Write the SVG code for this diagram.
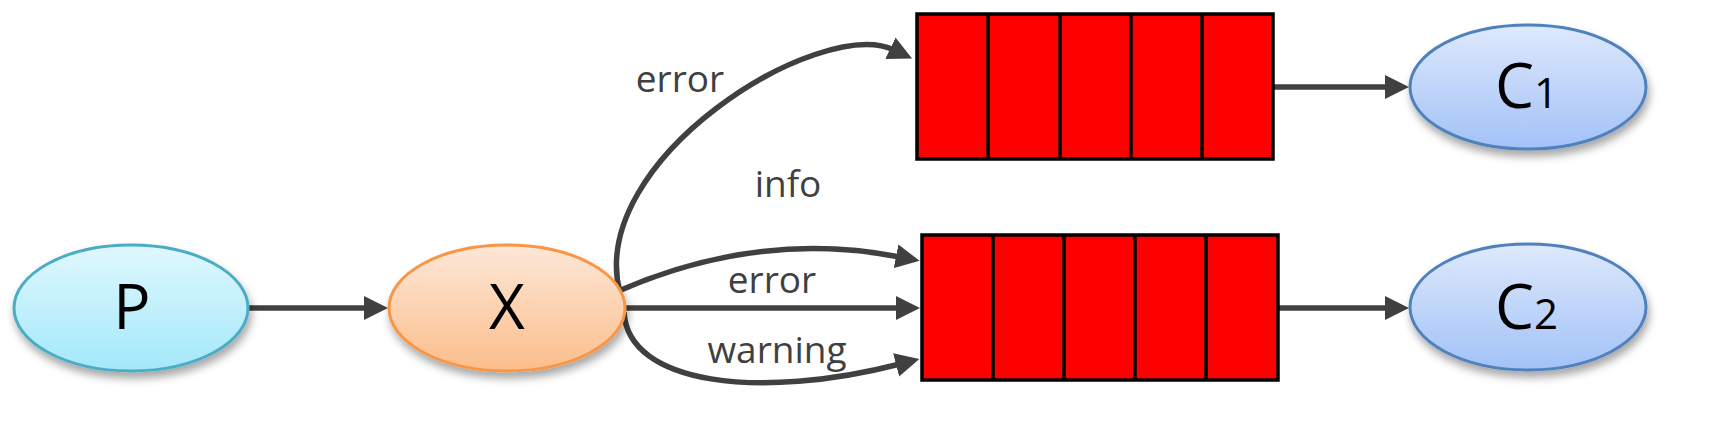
<svg xmlns="http://www.w3.org/2000/svg" width="1736" height="434" viewBox="0 0 1736 434">
  <style>
    .lbl { font-family: "Open Sans", "Noto Sans", "Liberation Sans", sans-serif; font-size: 37px; fill: #404040; text-anchor: middle; }
    .node-text { font-family: "Open Sans", "Noto Sans", "Liberation Sans", sans-serif; font-size: 62px; fill: #000000; }
    .edge { fill: none; stroke: #404040; stroke-width: 5.5; marker-end: url(#arrow); }
    .queue-box { fill: #FF0000; stroke: #000000; stroke-width: 3.5; }
    .cell { stroke: #000000; stroke-width: 3.5; }
  </style>
  <defs>
    <marker id="arrow" markerUnits="userSpaceOnUse" markerWidth="24" markerHeight="24" refX="4" refY="12" orient="auto" viewBox="0 0 24 24">
      <path d="M0,0 L24,12 L0,24 z" fill="#404040"/>
    </marker>
    <linearGradient id="gP" x1="0" y1="0" x2="0" y2="1">
      <stop offset="0" stop-color="#E0F8FE"/>
      <stop offset="1" stop-color="#A3E8FA"/>
    </linearGradient>
    <linearGradient id="gX" x1="0" y1="0" x2="0" y2="1">
      <stop offset="0" stop-color="#FDE7D7"/>
      <stop offset="1" stop-color="#FBBE8B"/>
    </linearGradient>
    <linearGradient id="gC" x1="0" y1="0" x2="0" y2="1">
      <stop offset="0" stop-color="#DEE9FC"/>
      <stop offset="1" stop-color="#A2C2F7"/>
    </linearGradient>
    <filter id="shadow" x="-20%" y="-20%" width="150%" height="160%">
      <feDropShadow dx="2" dy="6" stdDeviation="4" flood-color="#000000" flood-opacity="0.35"/>
    </filter>
  </defs>

  <g id="connectors">
    <path id="e-p-x" class="edge" d="M249,308 L368,308"/>
    <path id="e-x-q1-error" class="edge" d="M620,293 C585,160 820,15 894,50"/>
    <path id="e-x-q2-info" class="edge" d="M621,290 Q760,230 900,257"/>
    <path id="e-x-q2-error" class="edge" d="M626,308 L900,308"/>
    <path id="e-x-q2-warning" class="edge" d="M624,312 C628,385 760,400 900,364"/>
    <path id="e-q1-c1" class="edge" d="M1273,87 L1389,87"/>
    <path id="e-q2-c2" class="edge" d="M1278,308 L1389,308"/>
  </g>

  <g id="labels">
    <text class="lbl" x="680" y="92">error</text>
    <text class="lbl" x="788" y="197">info</text>
    <text class="lbl" x="772" y="293">error</text>
    <text class="lbl" x="777" y="363">warning</text>
  </g>

  <g id="node-P">
    <ellipse cx="131" cy="308" rx="117" ry="63" fill="url(#gP)" stroke="#4BACC6" stroke-width="3" filter="url(#shadow)"/>
    <text class="node-text" x="132" y="329" text-anchor="middle">P</text>
  </g>

  <g id="node-X">
    <ellipse cx="507" cy="308" rx="118" ry="63" fill="url(#gX)" stroke="#F79646" stroke-width="3" filter="url(#shadow)"/>
    <text class="node-text" x="507" y="329" text-anchor="middle">X</text>
  </g>

  <g id="queue-1">
    <rect class="queue-box" x="917" y="14" width="356" height="145"/>
    <line class="cell" x1="988" y1="14" x2="988" y2="159"/>
    <line class="cell" x1="1060" y1="14" x2="1060" y2="159"/>
    <line class="cell" x1="1131" y1="14" x2="1131" y2="159"/>
    <line class="cell" x1="1202" y1="14" x2="1202" y2="159"/>
  </g>

  <g id="queue-2">
    <rect class="queue-box" x="922" y="235" width="356" height="145"/>
    <line class="cell" x1="993" y1="235" x2="993" y2="380"/>
    <line class="cell" x1="1064" y1="235" x2="1064" y2="380"/>
    <line class="cell" x1="1135" y1="235" x2="1135" y2="380"/>
    <line class="cell" x1="1206" y1="235" x2="1206" y2="380"/>
  </g>

  <g id="node-C1">
    <ellipse cx="1528" cy="87" rx="118" ry="62" fill="url(#gC)" stroke="#4F81BD" stroke-width="3" filter="url(#shadow)"/>
    <text class="node-text" x="1495" y="108" font-size="60">C<tspan font-size="42">1</tspan></text>
  </g>

  <g id="node-C2">
    <ellipse cx="1528" cy="307" rx="118" ry="63" fill="url(#gC)" stroke="#4F81BD" stroke-width="3" filter="url(#shadow)"/>
    <text class="node-text" x="1495" y="329" font-size="60">C<tspan font-size="42">2</tspan></text>
  </g>
</svg>
